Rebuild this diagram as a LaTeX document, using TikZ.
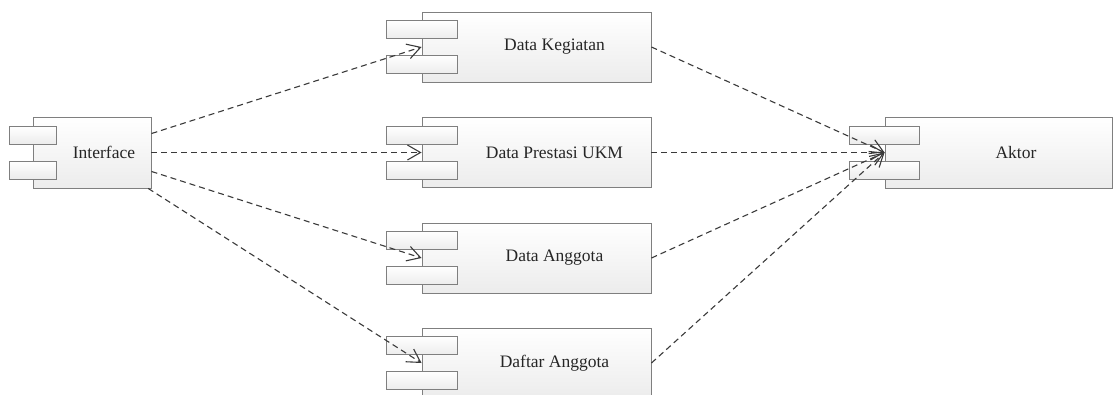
\documentclass[tikz,border=0pt]{standalone}
\usepackage{fontspec}
\setmainfont{Liberation Serif}
\usetikzlibrary{arrows.meta}

\definecolor{boxline}{HTML}{7F7F7F}
\definecolor{boxfill}{HTML}{ECECEC}
\definecolor{depline}{HTML}{3A3A3A}
\definecolor{labeltext}{HTML}{262626}

\begin{document}
\begin{tikzpicture}[x=1pt, y=-1pt,
  comp/.style={draw=boxline, line width=0.9pt, top color=white, bottom color=boxfill,
    inner sep=0pt},
  port/.style={draw=boxline, line width=0.9pt, top color=white, bottom color=boxfill,
    minimum height=18pt, inner sep=0pt},
  lbl/.style={text=labeltext, font=\fontsize{17.5}{20}\selectfont, inner sep=0pt},
  dep/.style={draw=depline, line width=1.1pt, dash pattern=on 6pt off 4pt,
    -{Straight Barb[length=13pt, width=15pt]}}]
\useasboundingbox (0,0) rectangle (1113,394);

% Draw the Interface component
\node[comp, minimum width=118pt, minimum height=71pt] (iface) at (92,152.5) {};
\node[port, minimum width=47pt] (iface-a) at ([yshift=17.5pt]iface.west) {};
\node[port, minimum width=47pt] (iface-b) at ([yshift=-17.5pt]iface.west) {};
\node[lbl] (iface-t) at ([xshift=12pt]iface.center) {Interface};

% Draw the middle components
\node[comp, minimum width=229pt, minimum height=70pt] (keg) at (536.5,47) {};
\node[port, minimum width=71pt] (keg-a) at ([yshift=17.5pt]keg.west) {};
\node[port, minimum width=71pt] (keg-b) at ([yshift=-17.5pt]keg.west) {};
\node[lbl] (keg-t) at ([xshift=18pt]keg.center) {Data Kegiatan};

\node[comp, minimum width=229pt, minimum height=70pt] (pres) at (536.5,152.5) {};
\node[port, minimum width=71pt] (pres-a) at ([yshift=17.5pt]pres.west) {};
\node[port, minimum width=71pt] (pres-b) at ([yshift=-17.5pt]pres.west) {};
\node[lbl] (pres-t) at ([xshift=18pt]pres.center) {Data Prestasi UKM};

\node[comp, minimum width=229pt, minimum height=70pt] (angg) at (536.5,258) {};
\node[port, minimum width=71pt] (angg-a) at ([yshift=17.5pt]angg.west) {};
\node[port, minimum width=71pt] (angg-b) at ([yshift=-17.5pt]angg.west) {};
\node[lbl] (angg-t) at ([xshift=18pt]angg.center) {Data Anggota};

\node[comp, minimum width=229pt, minimum height=70pt] (daft) at (536.5,363) {};
\node[port, minimum width=71pt] (daft-a) at ([yshift=17.5pt]daft.west) {};
\node[port, minimum width=71pt] (daft-b) at ([yshift=-17.5pt]daft.west) {};
\node[lbl] (daft-t) at ([xshift=18pt]daft.center) {Daftar Anggota};

% Draw the Aktor component
\node[comp, minimum width=227pt, minimum height=71pt] (aktor) at (998.5,152.5) {};
\node[port, minimum width=70pt] (aktor-a) at ([yshift=17.5pt]aktor.west) {};
\node[port, minimum width=70pt] (aktor-b) at ([yshift=-17.5pt]aktor.west) {};
\node[lbl] (aktor-t) at ([xshift=17.5pt]aktor.center) {Aktor};

% Dependencies from Interface
\draw[dep] (iface) -- (keg.west);
\draw[dep] (iface) -- (pres.west);
\draw[dep] (iface) -- (angg.west);
\draw[dep] (iface) -- (daft.west);

% Dependencies to Aktor
\draw[dep] (keg.east) -- (aktor.west);
\draw[dep] (pres.east) -- (aktor.west);
\draw[dep] (angg.east) -- (aktor.west);
\draw[dep] (daft.east) -- (aktor.west);
\end{tikzpicture}
\end{document}
